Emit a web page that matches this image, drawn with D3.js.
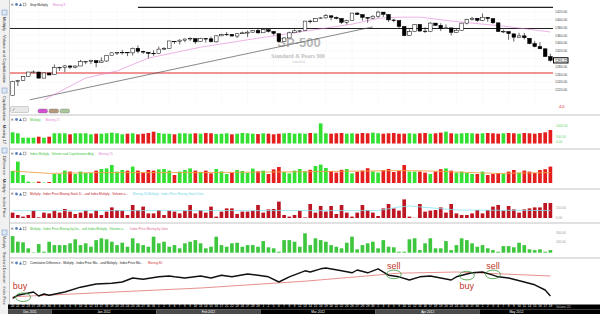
<!DOCTYPE html>
<html>
<head>
<meta charset="utf-8">
<script src="https://cdn.jsdelivr.net/npm/d3@7"></script>
<style>
body { margin: 0; background: #fff; }
svg { display: block; font-family: "Liberation Sans", Arial, sans-serif; }
</style>
</head>
<body>
<svg width="600" height="314"></svg>
<script>
// trading days shown, grouped by month
const months = ['Dec 2011', 'Jan 2012', 'Feb 2012', 'Mar 2012', 'Apr 2012', 'May 2012']
const monthDays = [
  [20,21,22,23,27,28,29,30],
  [3,4,5,6,9,10,11,12,13,17,18,19,20,23,24,25,26,27,30,31],
  [1,2,3,6,7,8,9,10,13,14,15,16,17,21,22,23,24,27,28,29],
  [1,2,5,6,7,8,9,12,13,14,15,16,19,20,21,22,23,26,27,28,29,30],
  [2,3,4,5,9,10,11,12,13,16,17,18,19,20,23,24,25,26,27,30],
  [1,2,3,4,7,8,9,10,11,14,15,16,17,18]
]

// SP-500 daily candles
const open = [1205.72,1241.25,1243.72,1254.00,1265.02,1265.38,1249.75,1262.82,
  1258.86,1277.03,1277.30,1280.93,1277.83,1280.77,1292.02,1292.48,1294.82,1290.22,1293.65,1308.07,1314.49,1315.29,1315.96,1314.40,1326.28,1318.25,1316.16,1313.53,
  1312.45,1324.24,1326.21,1344.32,1344.33,1347.04,1349.97,1351.21,1343.06,1351.30,1350.52,1342.61,1358.06,1361.22,1362.11,1357.53,1363.46,1365.20,1367.56,1372.20,
  1365.90,1374.09,1369.59,1363.63,1343.39,1352.65,1365.97,1370.78,1371.92,1395.95,1394.17,1402.55,1404.17,1409.59,1405.52,1402.89,1392.78,1397.11,1416.55,1412.52,1405.39,1403.31,
  1408.47,1418.98,1413.09,1398.79,1397.45,1382.18,1358.98,1368.77,1387.61,1370.27,1369.57,1390.78,1385.08,1376.96,1378.53,1366.97,1372.11,1390.64,1400.19,1403.26,
  1397.86,1405.50,1402.32,1391.51,1368.79,1369.16,1363.20,1354.58,1358.11,1351.93,1338.36,1330.78,1324.82,1305.05]
const high = [1242.82,1245.09,1255.22,1265.42,1269.37,1265.85,1263.54,1264.12,
  1284.62,1278.73,1283.05,1281.84,1281.99,1296.46,1293.80,1296.82,1294.82,1303.00,1308.11,1315.49,1315.38,1322.28,1315.96,1328.30,1333.47,1320.06,1316.16,1321.41,
  1330.52,1329.19,1345.34,1344.36,1349.24,1351.00,1354.32,1351.21,1353.35,1351.30,1355.87,1359.02,1363.40,1367.76,1362.70,1364.24,1368.92,1371.94,1373.09,1378.04,
  1376.17,1374.53,1369.59,1363.63,1354.85,1368.72,1374.76,1373.04,1396.13,1399.42,1402.63,1405.88,1414.00,1409.59,1407.75,1402.89,1399.18,1416.58,1419.15,1413.65,1405.39,1410.89,
  1422.38,1419.00,1413.09,1401.60,1397.45,1383.01,1374.71,1388.13,1387.61,1379.66,1392.76,1390.78,1390.46,1387.40,1378.53,1375.57,1391.37,1402.09,1406.64,1403.26,
  1415.32,1405.50,1403.07,1391.51,1373.91,1369.16,1363.73,1365.88,1365.66,1351.93,1344.94,1341.78,1326.36,1312.24]
const low = [1205.72,1229.51,1243.72,1254.00,1262.30,1248.64,1249.75,1257.46,
  1258.86,1268.10,1265.26,1273.34,1274.55,1280.77,1285.41,1285.77,1277.58,1290.22,1290.99,1308.07,1309.17,1309.89,1306.06,1307.65,1313.60,1311.72,1300.49,1306.69,
  1312.45,1321.57,1326.21,1337.52,1335.92,1341.95,1344.63,1337.35,1343.06,1340.83,1340.80,1341.22,1357.24,1358.11,1355.53,1352.28,1363.46,1354.92,1365.97,1363.81,
  1365.90,1366.42,1359.13,1340.03,1343.39,1352.65,1365.97,1366.69,1371.92,1389.97,1394.17,1401.47,1402.43,1397.68,1400.64,1388.73,1386.87,1397.11,1411.95,1397.20,1391.56,1401.42,
  1404.46,1406.56,1394.09,1392.92,1378.24,1357.38,1358.98,1368.77,1369.85,1365.38,1369.57,1383.29,1370.30,1376.96,1358.79,1366.82,1372.11,1387.28,1397.31,1394.00,
  1395.73,1393.92,1388.71,1367.96,1365.04,1347.75,1343.13,1354.58,1348.89,1336.61,1328.41,1324.79,1304.86,1291.98]
const close = [1241.30,1243.72,1254.00,1265.33,1265.43,1249.64,1263.02,1257.60,
  1277.06,1277.30,1281.06,1277.81,1280.70,1292.08,1292.48,1295.50,1289.09,1293.67,1308.04,1314.50,1315.38,1316.00,1314.65,1326.06,1318.43,1316.33,1313.01,1312.41,
  1324.09,1325.54,1344.90,1344.33,1347.05,1349.96,1351.95,1342.64,1351.77,1350.50,1343.23,1358.04,1361.23,1362.21,1357.66,1363.46,1365.74,1367.59,1372.18,1365.68,
  1374.09,1369.63,1364.33,1343.36,1352.63,1365.91,1370.87,1371.09,1395.95,1394.28,1402.60,1404.17,1409.75,1405.52,1402.89,1392.78,1397.11,1416.51,1412.52,1405.54,1403.28,1408.47,
  1419.04,1413.38,1398.96,1398.08,1382.20,1358.59,1368.71,1387.57,1370.26,1369.57,1390.78,1385.14,1376.92,1378.53,1366.94,1371.97,1390.69,1399.98,1403.36,1397.91,
  1405.82,1402.31,1391.57,1369.10,1369.58,1363.72,1354.58,1357.99,1353.39,1338.35,1330.66,1324.80,1304.86,1295.22]

// moving average drawn on the price pane (bar index, price)
const maIdx = [6,14,20,26,36,46,55,65,70,74,78,84,94,103]
const maVal = [1194,1250,1268,1301,1329,1350,1368,1388,1403,1406,1406,1396,1383,1368]
// trend line and horizontal levels
const trendIdx = [3.3, 69]
const trendVal = [1194, 1381]
const levelVal = [1431, 1377, 1263]
const levelFrom = [24, -0.5, -0.5]
const priceTicks = [1420,1400,1380,1360,1340,1320,1300,1280,1260,1240,1220]

// lower panes
const multiplyVals = [640,583,331,331,331,389,331,389,583,583,583,526,583,583,583,526,560,560,583,620,583,526,560,583,526,560,600,674,600,560,560,526,583,583,560,583,
  560,600,583,540,560,583,526,560,600,583,560,540,583,560,526,560,583,600,560,583,560,600,583,1150,583,560,583,600,560,583,560,600,583,620,583,560,583,600,560,
  560,583,560,583,600,560,583,620,674,583,560,583,600,583,560,583,600,583,560,583,600,583,560,600,583,560,600,640,771]
const diffVals = [60,107,40,7,2,7,2,5,45,45,62,57,45,57,50,50,62,70,73,90,57,65,62,82,62,52,65,62,68,70,62,40,57,65,73,62,
  55,62,48,70,58,45,52,65,60,50,72,58,62,45,68,80,55,48,62,70,58,66,85,92,75,60,52,66,70,48,56,62,74,58,52,64,70,55,60,
  90,57,57,57,52,45,57,69,73,62,52,57,50,45,45,57,40,45,50,45,57,65,52,62,57,50,65,69,82]
const diffAvgIdx = [0,7,17,36,55,74,80,88,93,103]
const diffAvgVal = [60,48,52,52,56,62,60,52,48,52]
const priceMoveVals = [27,15,7,15,37,3,27,23,37,27,45,32,20,27,37,23,37,15,32,53,40,37,15,65,40,57,23,23,40,15,37,32,23,37,65,23,
  40,27,57,7,32,48,48,20,32,32,37,65,27,43,45,82,15,7,15,37,3,70,27,60,32,60,20,65,27,7,27,65,40,27,10,48,70,48,37,
  93,7,1,70,32,37,40,53,27,70,23,15,15,23,40,23,40,57,65,37,60,43,27,43,48,53,53,75,75]
const priceMoveAvgIdx = [0,70,74,76,85,103]
const priceMoveAvgVal = [37,37,55,60,40,37]
const stdVals = [83,55,52,22,2,43,5,55,38,38,38,47,67,38,47,30,63,72,67,55,38,50,30,72,47,38,30,80,47,55,30,38,22,47,55,63,
  47,22,30,80,38,30,47,50,30,38,38,30,58,27,22,5,63,63,55,30,97,38,72,63,55,38,30,22,50,80,17,38,47,55,22,63,30,27,5,
  5,67,72,13,47,72,22,22,58,13,38,72,63,47,30,38,22,13,5,33,33,27,50,38,17,13,17,5,13]
// cumulative difference and its moving 80
const cumIdx = [0,1,4,5,6,7,10,13,16,19,21,23,25,28,30,31,33,36,38,40,42,45,47,49,51,53,56,57,59,60,63,65,66,68,70,72,74,76,78,80,82,84,85,87,88,90,92,93,95,98,100,102,103]
const cumVal = [4,12,20,10,15,12,20,32,40,42,45,55,52,58,60,58,55,60,55,62,58,65,62,58,45,58,73,70,78,80,73,68,75,68,78,62,58,50,58,60,55,50,58,65,68,70,62,58,55,45,38,25,10]
const cumAvgIdx = [0,36,56,74,85,103]
const cumAvgVal = [8,30,47,67,70,60]
const signalIdx = [2, 73, 87, 92]
const signalVal = [7, 64, 61, 64]
const signalText = ['buy', 'sell', 'buy', 'sell']

const svg = d3.select('svg')
const plotLeft = 10, plotRight = 553
const n = close.length
const idx = d3.range(n)
const dayNum = monthDays.flat()

const x = d3.scaleBand().domain(idx).range([plotLeft, plotRight]).paddingInner(0.3).paddingOuter(0.15)
const xi = d3.scaleLinear().domain([-0.5, n - 0.5]).range([plotLeft, plotRight])
const up = idx.map(i => i === 0 ? close[0] >= open[0] : close[i] >= close[i - 1])

const yPrice = d3.scaleLinear().domain([1220, 1420]).range([89.7, 11.7])
const yMult = d3.scaleLinear().domain([0, 1000]).range([143.5, 126])
const yDiff = d3.scaleLinear().domain([0, 100]).range([183, 163])
const yMove = d3.scaleLinear().domain([0, 100]).range([218, 198])
const yStd = d3.scaleLinear().domain([0, 100]).range([252.7, 232.7])
const yCum = d3.scaleLinear().domain([0, 90]).range([300, 264])

// left tool strip
svg.append('rect').attr('x', 0).attr('y', 0).attr('width', 9).attr('height', 314).attr('fill', '#f1f1f1')
svg.append('line').attr('x1', 9.5).attr('x2', 9.5).attr('y1', 0).attr('y2', 314).attr('stroke', '#a0a0a0').attr('stroke-width', 0.6)
const sideLabels = [
  [17, 'Multiply  ·  Volume and  Capitalization'],
  [96, 'Capitalization  ·  Moving 17'],
  [156, 'Difference  ·  Multiply  ·  Index Price'],
  [236, 'Multiply · Standard Deviation · Index Price']
]
sideLabels.forEach(([y, t], k) => {
  svg.append('text').attr('transform', `translate(2.6,${y}) rotate(90)`)
    .attr('font-size', k === 3 ? 3.7 : 4.2).attr('fill', '#333').text(t)
})
;[10, 88, 148, 230].forEach(y => {
  svg.append('rect').attr('x', 2).attr('y', y).attr('width', 5).attr('height', 5)
    .attr('fill', '#dde8f6').attr('stroke', '#6c8ebf').attr('stroke-width', 0.5)
})

// pane separators
;[115, 149, 189, 223, 258].forEach(y => {
  svg.append('line').attr('x1', 9.5).attr('x2', 600).attr('y1', y).attr('y2', y)
    .attr('stroke', '#b4b4b4').attr('stroke-width', 0.8)
})

// price grid
const grid = svg.append('g').attr('stroke', '#e6e6e6').attr('stroke-width', 0.4).attr('stroke-dasharray', '1,1')
grid.selectAll('line.h').data(priceTicks).join('line').attr('class', 'h')
  .attr('x1', plotLeft).attr('x2', plotRight).attr('y1', d => yPrice(d)).attr('y2', d => yPrice(d))
grid.selectAll('line.v').data(idx.filter(i => i % 5 === 0)).join('line').attr('class', 'v')
  .attr('x1', i => xi(i)).attr('x2', i => xi(i)).attr('y1', 8).attr('y2', 105)

// watermark
svg.append('text').attr('x', 299).attr('y', 47).attr('text-anchor', 'middle').attr('font-size', 13)
  .attr('font-weight', 'bold').attr('fill', '#b8b8b8').text('SP-500')
svg.append('text').attr('x', 298).attr('y', 57.5).attr('text-anchor', 'middle').attr('font-size', 5.6)
  .attr('font-family', 'Liberation Serif, serif').attr('font-weight', 'bold').attr('fill', '#bdbdbd').text('Standard & Poors 500')
svg.append('text').attr('x', 299).attr('y', 63).attr('text-anchor', 'middle').attr('font-size', 2.6)
  .attr('fill', '#c4c4c4').text('www.stock')

// levels and trend line
const lineX = d3.line().x(d => xi(d[0]))
levelVal.forEach((v, k) => {
  svg.append('line').attr('x1', xi(levelFrom[k])).attr('x2', plotRight)
    .attr('y1', yPrice(v)).attr('y2', yPrice(v))
    .attr('stroke', k === 2 ? '#e22a2a' : '#222').attr('stroke-width', 1.1)
})
svg.append('path').datum(trendIdx.map((d, k) => [d, trendVal[k]]))
  .attr('d', lineX.y(d => yPrice(d[1]))).attr('fill', 'none').attr('stroke', '#555').attr('stroke-width', 0.7)
svg.append('path').datum(maIdx.map((d, k) => [d, maVal[k]]))
  .attr('d', lineX.y(d => yPrice(d[1]))).attr('fill', 'none').attr('stroke', '#e37fd3').attr('stroke-width', 0.6)

// candles
svg.append('g').selectAll('line').data(idx).join('line')
  .attr('x1', i => xi(i)).attr('x2', i => xi(i))
  .attr('y1', i => yPrice(high[i])).attr('y2', i => yPrice(low[i]))
  .attr('stroke', '#000').attr('stroke-width', 0.6)
svg.append('g').selectAll('rect').data(idx).join('rect')
  .attr('x', i => x(i)).attr('width', x.bandwidth())
  .attr('y', i => yPrice(Math.max(open[i], close[i])))
  .attr('height', i => Math.max(0.6, Math.abs(yPrice(open[i]) - yPrice(close[i]))))
  .attr('fill', i => close[i] >= open[i] ? '#fff' : '#000')
  .attr('stroke', '#000').attr('stroke-width', 0.5)

// price axis
const pAxis = svg.append('g').attr('transform', 'translate(554,0)')
  .call(d3.axisRight(yPrice).tickValues(priceTicks).tickSize(0).tickPadding(1).tickFormat(d3.format('.2f')))
pAxis.select('.domain').remove()
pAxis.attr('font-size', 3.4).attr('font-family', 'Liberation Sans, Arial, sans-serif').attr('color', '#444')
const lastY = yPrice(close[n - 1])
svg.append('rect').attr('x', 553.5).attr('y', lastY - 2.6).attr('width', 14.5).attr('height', 5.2)
  .attr('fill', '#fff').attr('stroke', '#000').attr('stroke-width', 1)
svg.append('text').attr('x', 555).attr('y', lastY + 1.2).attr('font-size', 3.4).text(d3.format('.2f')(close[n - 1]))
svg.append('text').attr('x', 559).attr('y', 108).attr('font-size', 4).attr('fill', '#d22').text('4,0')

// widgets under price pane
svg.append('rect').attr('x', 10.5).attr('y', 106.5).attr('width', 18).attr('height', 6).attr('rx', 1)
  .attr('fill', '#e8e8e8').attr('stroke', '#aaa').attr('stroke-width', 0.5)
svg.append('text').attr('x', 12).attr('y', 111.3).attr('font-size', 4.5).attr('font-family', 'DejaVu Sans').attr('fill', '#555').text('✓')
;[['#d44fd4', 38], ['#b59a7c', 49], ['#a9c99a', 60]].forEach(([c, px]) => {
  svg.append('rect').attr('x', px).attr('y', 109).attr('width', 9.5).attr('height', 4).attr('rx', 1.5)
    .attr('fill', c).attr('stroke', '#777').attr('stroke-width', 0.4)
})

// pane titles
function icons(y) {
  const g = svg.append('g').attr('font-family', 'DejaVu Sans').attr('font-size', 4)
  g.append('text').attr('x', 10.5).attr('y', y + 1.4).attr('fill', '#333').text('✕')
  g.append('circle').attr('cx', 16.5).attr('cy', y).attr('r', 1.4).attr('fill', '#5b7fb5')
  g.append('path').attr('d', `M19,${y + 1.6}L20.5,${y - 1.6}L22,${y + 1.6}Z`).attr('fill', '#3f6fb0')
  g.append('rect').attr('x', 23.2).attr('y', y - 1.4).attr('width', 2.8).attr('height', 2.8).attr('fill', 'none').attr('stroke', '#777').attr('stroke-width', 0.5)
}
const titles = [
  [4.5, [['Stop Multiply', '#222'], ['Moving 8', '#e37fd3']]],
  [119.5, [['Multiply', '#3bc43b'], ['Moving 17', '#e37fd3']]],
  [153.5, [['Index Multiply - Volume and Capitalization Avg', '#3bc43b'], ['Moving 15', '#e37fd3']]],
  [194, [['Multiply - Index Price Moving Stock D... and Index Multiply - Volume a...', '#c21a26'], ['Moving 50 Multiply - Index Price Moving Stock Data', '#6fd6ea']]],
  [228.5, [['Multiply - Index Price Moving by Da... and Index Multiply - Volume a...', '#3bc43b'], ['Index Price Moving by Date', '#e06a8a']]],
  [263, [['Cumulative Difference - Multiply - Index Price Mo... and Multiply - Index Price Mo...', '#222'], ['Moving 80', '#d03030']]]
]
titles.forEach(([y, parts]) => {
  icons(y)
  let px = 30
  parts.forEach(([t, c]) => {
    const el = svg.append('text').attr('x', px).attr('y', y + 1.2).attr('font-size', 3.1).attr('fill', c).text(t)
    px += el.node().getComputedTextLength() + 5
  })
})

// bar panes
function bars(vals, scale, color) {
  svg.append('g').selectAll('rect').data(idx).join('rect')
    .attr('x', i => x(i)).attr('width', x.bandwidth())
    .attr('y', i => scale(vals[i])).attr('height', i => scale(0) - scale(vals[i]))
    .attr('fill', color)
}
const upDown = i => up[i] ? '#31e031' : '#e41d1d'
bars(multiplyVals, yMult, upDown)
bars(diffVals, yDiff, upDown)
bars(priceMoveVals, yMove, '#bd1522')
bars(stdVals, yStd, '#3fc63f')

svg.append('path').datum(diffAvgIdx.map((d, k) => [d, diffAvgVal[k]]))
  .attr('d', lineX.y(d => yDiff(d[1]))).attr('fill', 'none').attr('stroke', '#f2a24a').attr('stroke-width', 0.9)
svg.append('path').datum(priceMoveAvgIdx.map((d, k) => [d, priceMoveAvgVal[k]]))
  .attr('d', lineX.y(d => yMove(d[1]))).attr('fill', 'none').attr('stroke', '#86e3f2').attr('stroke-width', 0.8)

const sideText = [
  [126.5, '1000.00', '#5fd35f'], [132, '-', '#5fd35f'], [137.6, '500.00', '#5fd35f'], [143, '0.00', '#5fd35f'],
  [209, '150.00', '#999'], [219, '0.00', '#999'],
  [234, '300.00', '#999'], [243, '200.00', '#999']
]
sideText.forEach(([y, t, c]) => {
  svg.append('text').attr('x', 556).attr('y', y).attr('font-size', 3.2).attr('fill', c).text(t)
})

// cumulative pane
svg.append('path').datum(cumAvgIdx.map((d, k) => [d, cumAvgVal[k]]))
  .attr('d', lineX.y(d => yCum(d[1]))).attr('fill', 'none').attr('stroke', '#d64545').attr('stroke-width', 0.6)
svg.append('path').datum(cumIdx.map((d, k) => [d, cumVal[k]]))
  .attr('d', lineX.y(d => yCum(d[1]))).attr('fill', 'none').attr('stroke', '#111').attr('stroke-width', 1.4)
  .attr('stroke-linejoin', 'round')
const labelDy = [-8, -5, 13.5, -5]
const labelDx = [-3, 0, 0, 0]
signalIdx.forEach((s, k) => {
  const cx = xi(s), cy = yCum(signalVal[k])
  svg.append('ellipse').attr('cx', cx).attr('cy', cy).attr('rx', 7.5).attr('ry', 4.3)
    .attr('fill', 'none').attr('stroke', '#3c9a3c').attr('stroke-width', 0.8)
  svg.append('text').attr('x', cx + labelDx[k]).attr('y', cy + labelDy[k]).attr('text-anchor', 'middle')
    .attr('font-size', 9).attr('fill', '#c0392b').text(signalText[k])
})

// date axis
svg.append('rect').attr('x', 8).attr('y', 304.5).attr('width', 592).attr('height', 5).attr('fill', '#000')
const dAxis = svg.append('g').attr('transform', 'translate(0,304.6)')
  .call(d3.axisBottom(x).tickSize(0).tickPadding(0.6).tickFormat(i => dayNum[i]))
dAxis.select('.domain').remove()
dAxis.attr('font-size', 3).attr('font-family', 'Liberation Sans, Arial, sans-serif').attr('color', '#fff')
let start = 0
monthDays.forEach((days, m) => {
  const x0 = m === 0 ? 8 : xi(start - 0.5)
  const x1 = m === monthDays.length - 1 ? 600 : xi(start + days.length - 0.5)
  svg.append('rect').attr('x', x0).attr('y', 309.5).attr('width', x1 - x0).attr('height', 4.5)
    .attr('fill', m % 2 === 0 ? '#4a4a4a' : '#000')
  const mid = m === monthDays.length - 1 ? xi(start + days.length / 2 - 0.5) : (x0 + x1) / 2
  svg.append('text').attr('x', mid).attr('y', 313.2).attr('text-anchor', 'middle')
    .attr('font-size', 3.2).attr('fill', '#fff').text(months[m])
  start += days.length
})
svg.append('text').attr('x', 556).attr('y', 308.3).attr('font-size', 3).attr('fill', '#bbb').text('Volume 2D')
</script>
</body>
</html>
